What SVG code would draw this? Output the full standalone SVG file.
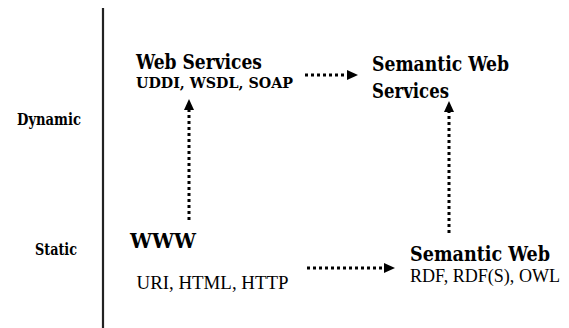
<svg xmlns="http://www.w3.org/2000/svg" width="569" height="328" viewBox="0 0 569 328">
  <style>
    text { font-family: "Liberation Serif", "Times New Roman", serif; fill: #000; }
    .title, .axis-label, .proto { font-family: "DejaVu Serif Condensed", "DejaVu Serif", "Liberation Serif", serif; font-stretch: condensed; font-weight: bold; }
    .title { font-size: 20px; }
    .proto { font-size: 15px; }
    .sub { font-size: 18px; }
    .axis-label { font-size: 16px; }
    .link { stroke: #000; stroke-width: 3; stroke-dasharray: 3 3; fill: none; }
  </style>
  <defs>
    <marker id="head" viewBox="0 0 11 10" refX="0" refY="5" markerWidth="11" markerHeight="10" markerUnits="userSpaceOnUse" orient="auto">
      <path d="M0,0 L11,5 L0,10 Z" fill="#000"/>
    </marker>
  </defs>

  <!-- time axis separating the dynamic and static layers -->
  <g id="axis">
    <line x1="103" y1="8" x2="103" y2="328" stroke="#222" stroke-width="2.2"/>
    <text class="axis-label" x="17" y="125" textLength="64" lengthAdjust="spacingAndGlyphs">Dynamic</text>
    <text class="axis-label" x="35" y="255" textLength="42" lengthAdjust="spacingAndGlyphs">Static</text>
  </g>

  <g id="web-services">
    <text class="title" x="136" y="68.5" textLength="126" lengthAdjust="spacingAndGlyphs">Web Services</text>
    <text class="proto" x="136" y="87.5" textLength="157" lengthAdjust="spacingAndGlyphs">UDDI, WSDL, SOAP</text>
  </g>

  <g id="semantic-web-services">
    <text class="title" x="372" y="71" textLength="137" lengthAdjust="spacingAndGlyphs">Semantic Web</text>
    <text class="title" x="372" y="98" textLength="77" lengthAdjust="spacingAndGlyphs">Services</text>
  </g>

  <g id="www">
    <text class="title" x="130" y="248" textLength="66" lengthAdjust="spacingAndGlyphs">WWW</text>
    <text class="sub" x="136.5" y="288.5" textLength="152" lengthAdjust="spacingAndGlyphs">URI, HTML, HTTP</text>
  </g>

  <g id="semantic-web">
    <text class="title" x="410" y="261" textLength="140" lengthAdjust="spacingAndGlyphs">Semantic Web</text>
    <text class="sub" x="410" y="282" textLength="150" lengthAdjust="spacingAndGlyphs">RDF, RDF(S), OWL</text>
  </g>

  <g id="connectors">
    <line class="link" x1="305" y1="75" x2="347" y2="75" marker-end="url(#head)"/>
    <line class="link" x1="307" y1="268" x2="384" y2="268" marker-end="url(#head)"/>
    <line class="link" x1="189" y1="220" x2="189" y2="110" marker-end="url(#head)"/>
    <line class="link" x1="449" y1="233" x2="449" y2="112" marker-end="url(#head)"/>
  </g>
</svg>
